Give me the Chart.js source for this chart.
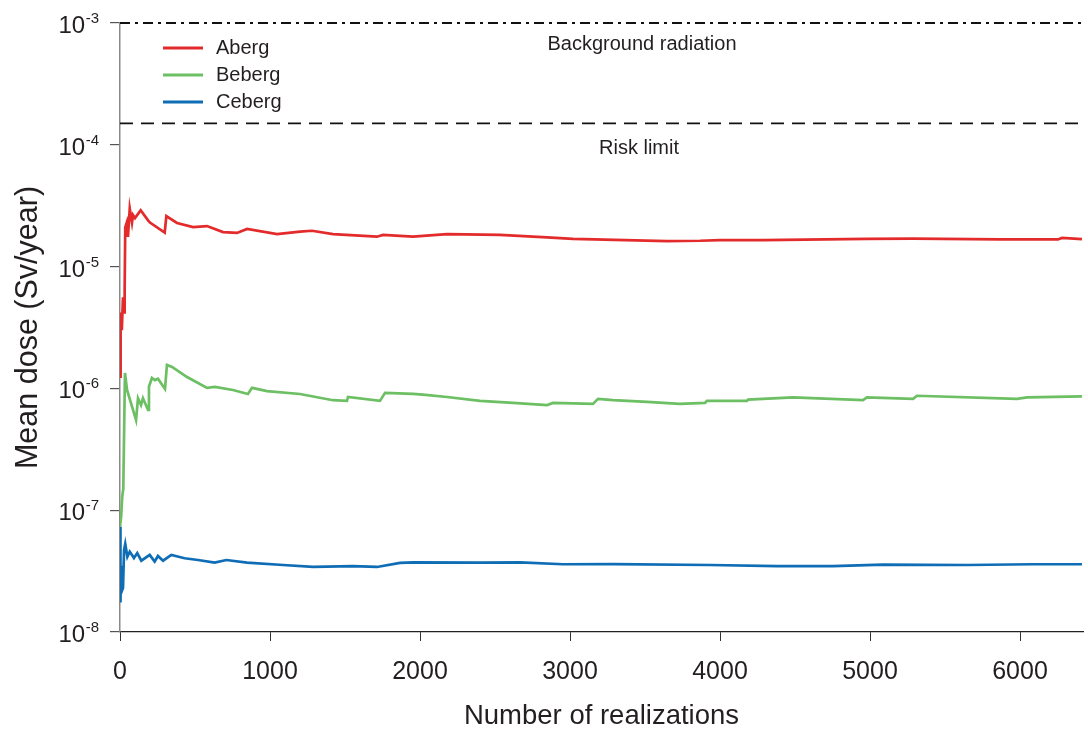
<!DOCTYPE html>
<html><head><meta charset="utf-8">
<script src="https://cdn.jsdelivr.net/npm/chart.js@4.4.1/dist/chart.umd.min.js"></script>
<style>html,body{margin:0;padding:0;background:#fff;}#wrap{width:1088px;height:734px;}</style>
</head><body><div id="wrap"><canvas id="c" width="1088" height="734"></canvas></div>
<script>
const seriesNames = ['Aberg', 'Beberg', 'Ceberg'];
const abergN = [0,3,5,12,20,27,31,35,45,53,65,80,87,100,138,187,200,298,309,380,487,580,687,780,847,1047,1200,1280,1420,1713,1753,1953,2180,2533,2847,3020,3647,3867,4000,4287,4980,5287,5867,6253,6280,6413];
const abergDose = [1.25e-6,3.5e-6,4.2e-6,3.0e-6,5.6e-6,4.2e-6,6.4e-6,2.1e-5,2.3e-5,1.75e-5,3.0e-5,2.3e-5,2.65e-5,2.5e-5,2.9e-5,2.4e-5,2.3e-5,1.9e-5,2.6e-5,2.28e-5,2.11e-5,2.15e-5,1.92e-5,1.89e-5,2.04e-5,1.85e-5,1.94e-5,1.97e-5,1.85e-5,1.76e-5,1.82e-5,1.76e-5,1.85e-5,1.82e-5,1.74e-5,1.69e-5,1.62e-5,1.63e-5,1.65e-5,1.65e-5,1.69e-5,1.70e-5,1.67e-5,1.67e-5,1.72e-5,1.68e-5];
const bebergN = [0,8,15,22,33,47,107,120,140,153,187,193,213,233,253,300,313,347,447,580,633,753,853,880,980,1200,1420,1513,1520,1733,1767,1953,2020,2180,2400,2620,2847,2887,3153,3187,3287,3513,3733,3900,3913,4180,4187,4487,4953,4980,5287,5313,5980,6047,6413];
const bebergDose = [7.3e-8,9.0e-8,1.3e-7,1.5e-7,1.34e-6,9.7e-7,5.5e-7,8.3e-7,7.3e-7,8.3e-7,6.65e-7,1.03e-6,1.22e-6,1.17e-6,1.2e-6,9.9e-7,1.56e-6,1.50e-6,1.24e-6,1.01e-6,1.03e-6,9.7e-7,9.0e-7,1.01e-6,9.5e-7,9.0e-7,8.0e-7,7.9e-7,8.5e-7,7.9e-7,9.2e-7,9.0e-7,8.9e-7,8.5e-7,7.9e-7,7.6e-7,7.3e-7,7.6e-7,7.45e-7,8.2e-7,8.0e-7,7.75e-7,7.45e-7,7.6e-7,7.9e-7,7.9e-7,8.1e-7,8.45e-7,8.0e-7,8.45e-7,8.2e-7,8.7e-7,8.2e-7,8.45e-7,8.6e-7];
const cebergN = [0,3,8,14,20,27,35,49,65,80,93,115,142,198,231,253,287,342,431,520,631,709,847,1087,1287,1553,1713,1867,1953,2400,2667,2953,3287,3933,4380,4753,5087,5647,6087,6413];
const cebergDose = [7.3e-8,1.75e-8,3.5e-8,2.2e-8,2.3e-8,4.7e-8,5.3e-8,4.15e-8,4.56e-8,4.29e-8,4.05e-8,4.45e-8,3.85e-8,4.29e-8,3.78e-8,4.21e-8,3.85e-8,4.29e-8,4.03e-8,3.90e-8,3.71e-8,3.90e-8,3.71e-8,3.55e-8,3.42e-8,3.48e-8,3.42e-8,3.69e-8,3.73e-8,3.71e-8,3.73e-8,3.60e-8,3.61e-8,3.55e-8,3.48e-8,3.48e-8,3.57e-8,3.55e-8,3.60e-8,3.60e-8];
const backgroundRadiation = 1e-3;
const riskLimit = 1.5e-4;
const xTicks = [0,1000,2000,3000,4000,5000,6000];
const yTicks = [1e-8,1e-7,1e-6,1e-5,1e-4,1e-3];
const xMax = 6420;

const FONT = '"Liberation Sans", Arial, sans-serif';
const TXT = '#231f20';
const colors = ['#e32b2b', '#6cbf62', '#0f6db5'];
const pts = (xs, ys) => xs.map((x, i) => ({x: x, y: ys[i]}));

const lineDs = (label, data, color) => ({label, data, borderColor: color, backgroundColor: color, borderWidth: 2.7, pointRadius: 0, tension: 0, fill: false});

const overlay = {
  id: 'overlay',
  afterDatasetsDraw(chart) {
    const ctx = chart.ctx, ys = chart.scales.y;
    ctx.save();
    ctx.fillStyle = TXT;
    // y tick labels with superscript exponent
    yTicks.forEach(v => {
      const py = ys.getPixelForValue(v);
      const exp = String(Math.round(Math.log10(v)));
      ctx.font = '15px ' + FONT;
      ctx.textAlign = 'right'; ctx.textBaseline = 'alphabetic';
      const w = ctx.measureText(exp).width;
      ctx.fillText(exp, 99, py);
      ctx.font = '24px ' + FONT;
      ctx.fillText('10', 99 - w - 0.5, py + 10);
    });
    // legend
    ctx.font = '20px ' + FONT;
    ctx.textAlign = 'left'; ctx.textBaseline = 'middle';
    [48, 75, 102].forEach((ly, i) => {
      ctx.strokeStyle = colors[i]; ctx.lineWidth = 3;
      ctx.beginPath(); ctx.moveTo(163, ly); ctx.lineTo(203, ly); ctx.stroke();
      ctx.fillText(seriesNames[i], 216, ly);
    });
    // reference annotations
    ctx.textAlign = 'center'; ctx.textBaseline = 'alphabetic';
    ctx.font = '20px ' + FONT;
    ctx.fillText('Background radiation', 642, ys.getPixelForValue(backgroundRadiation) + 27);
    ctx.fillText('Risk limit', 639, ys.getPixelForValue(riskLimit) + 31);
    ctx.restore();
  }
};

new Chart(document.getElementById('c'), {
  type: 'line',
  data: {
    datasets: [
      lineDs(seriesNames[0], pts(abergN, abergDose), colors[0]),
      lineDs(seriesNames[1], pts(bebergN, bebergDose), colors[1]),
      lineDs(seriesNames[2], pts(cebergN, cebergDose), colors[2]),
      {label: 'Background radiation', data: [{x: 0, y: backgroundRadiation}, {x: xMax, y: backgroundRadiation}], borderColor: '#111', borderWidth: 1.8, borderDash: [10, 5, 3, 5], pointRadius: 0, clip: false},
      {label: 'Risk limit', data: [{x: 0, y: riskLimit}, {x: xMax, y: riskLimit}], borderColor: '#111', borderWidth: 1.8, borderDash: [13, 8], pointRadius: 0, clip: false}
    ]
  },
  options: {
    responsive: false, animation: false, devicePixelRatio: 1,
    layout: {padding: {top: 23, right: 5, left: 0, bottom: 0}},
    plugins: {legend: {display: false}, tooltip: {enabled: false}},
    scales: {
      x: {
        type: 'linear', min: 0, max: xMax,
        afterBuildTicks: s => { s.ticks = xTicks.map(v => ({value: v})); },
        afterFit: s => { s.height = 102; },
        ticks: {font: {size: 25, family: FONT}, color: TXT, padding: 16, maxRotation: 0, autoSkip: false, callback: v => String(v)},
        grid: {drawOnChartArea: false, tickLength: 9, color: '#333', lineWidth: 1},
        border: {color: '#222', width: 1.2},
        title: {display: true, text: 'Number of realizations', font: {size: 27.5, family: FONT}, color: TXT, padding: {top: 1, bottom: 1}}
      },
      y: {
        type: 'logarithmic', min: 1e-8, max: 1e-3,
        afterBuildTicks: s => { s.ticks = yTicks.map(v => ({value: v})); },
        afterFit: s => { s.width = 120; },
        ticks: {display: false},
        grid: {drawOnChartArea: false, tickLength: 10, color: '#555', lineWidth: 1.2},
        border: {color: '#8a8a8a', width: 1.5},
        title: {display: true, text: 'Mean dose (Sv/year)', font: {size: 30.5, family: FONT}, color: TXT, padding: {top: 10, bottom: 10}}
      }
    }
  },
  plugins: [overlay]
});
</script>
</body></html>
